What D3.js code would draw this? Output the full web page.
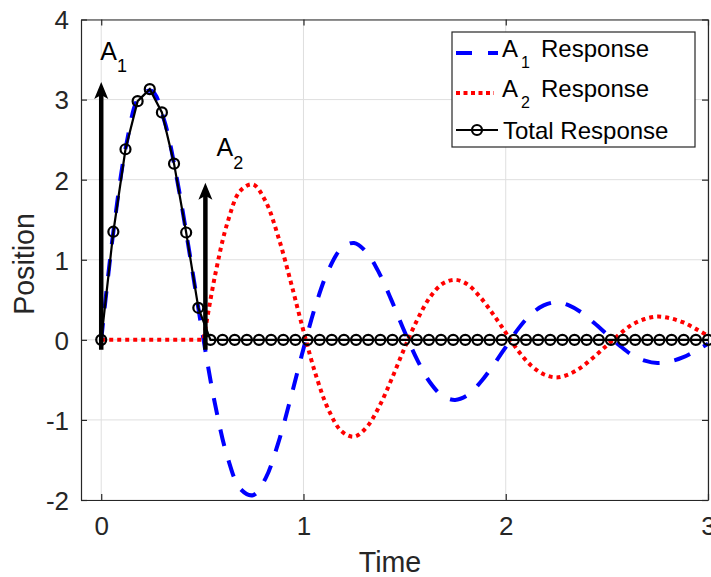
<!DOCTYPE html>
<html>
<head>
<meta charset="utf-8">
<script src="https://cdn.jsdelivr.net/npm/d3@7"></script>
<style>
  body { margin: 0; background: #fff; }
  svg { display: block; font-family: "Liberation Sans", Arial, Helvetica, sans-serif; }
</style>
</head>
<body>
<svg id="chart" width="711" height="577"></svg>
<script>
// A1 response (blue dashed)
const a1Time = [0, 0.0625, 0.125, 0.1875, 0.25, 0.3125, 0.375, 0.4375, 0.5, 0.5625, 0.625, 0.6875,
  0.75, 0.8125, 0.875, 0.9375, 1, 1.0625, 1.125, 1.1875, 1.25, 1.3125, 1.375, 1.4375, 1.5, 1.5625,
  1.625, 1.6875, 1.75, 1.8125, 1.875, 1.9375, 2, 2.0625, 2.125, 2.1875, 2.25, 2.3125, 2.375, 2.4375,
  2.5, 2.5625, 2.625, 2.6875, 2.75, 2.8125, 2.875, 2.9375, 3];
const a1Pos = [0, 1.40, 2.45, 3.03, 3.11, 2.73, 2.00, 1.07, 0.09, -0.80, -1.47, -1.86,
  -1.94, -1.73, -1.29, -0.72, -0.11, 0.45, 0.88, 1.14, 1.21, 1.09, 0.83, 0.48, 0.10, -0.25,
  -0.53, -0.70, -0.75, -0.69, -0.53, -0.32, -0.09, 0.14, 0.32, 0.43, 0.47, 0.43, 0.34, 0.21,
  0.07, -0.07, -0.19, -0.26, -0.29, -0.27, -0.22, -0.14, -0.05];

// A2 response (red dotted), flat until the second impulse
const a2Time = [0, 0.506, 0.5625, 0.625, 0.6875, 0.75, 0.8125, 0.875, 0.9375, 1, 1.0625, 1.125,
  1.1875, 1.25, 1.3125, 1.375, 1.4375, 1.5, 1.5625, 1.625, 1.6875, 1.75, 1.8125, 1.875, 1.9375, 2,
  2.0625, 2.125, 2.1875, 2.25, 2.3125, 2.375, 2.4375, 2.5, 2.5625, 2.625, 2.6875, 2.75, 2.8125,
  2.875, 2.9375, 3];
const a2Pos = [0, 0, 0.80, 1.47, 1.86, 1.94, 1.73, 1.29, 0.72, 0.11, -0.45, -0.88,
  -1.14, -1.21, -1.09, -0.83, -0.48, -0.10, 0.25, 0.53, 0.70, 0.75, 0.69, 0.53, 0.32, 0.09,
  -0.14, -0.32, -0.43, -0.47, -0.43, -0.34, -0.21, -0.07, 0.07, 0.19, 0.26, 0.29, 0.27, 0.22,
  0.14, 0.05];

// total response (black with circles)
const totalTime = [0, 0.06, 0.12, 0.18, 0.24, 0.3, 0.36, 0.42, 0.48, 0.54, 0.6, 0.66, 0.72, 0.78,
  0.84, 0.9, 0.96, 1.02, 1.08, 1.14, 1.2, 1.26, 1.32, 1.38, 1.44, 1.5, 1.56, 1.62, 1.68, 1.74,
  1.8, 1.86, 1.92, 1.98, 2.04, 2.1, 2.16, 2.22, 2.28, 2.34, 2.4, 2.46, 2.52, 2.58, 2.64, 2.7,
  2.76, 2.82, 2.88, 2.94, 3];
const totalPos = [0, 1.35, 2.38, 2.98, 3.13, 2.84, 2.20, 1.34, 0.40, 0, 0, 0, 0, 0,
  0, 0, 0, 0, 0, 0, 0, 0, 0, 0, 0, 0, 0, 0, 0, 0,
  0, 0, 0, 0, 0, 0, 0, 0, 0, 0, 0, 0, 0, 0, 0, 0,
  0, 0, 0, 0, 0];

// impulse arrows
const impulseTime = [0, 0.515];
const impulseSize = [3.22, 1.96];
const impulseSub = ["1", "2"];
const impulseLabelX = [-0.005, 0.57];
const impulseLabelY = [3.5, 2.29];

const xTicks = [0, 1, 2, 3];
const yTicks = [-2, -1, 0, 1, 2, 3, 4];
const legendSubs = ["1", "2"];

const axisColor = "#262626";
const gridColor = "#dfdfdf";

const svg = d3.select("#chart");
svg.append("rect").attr("width", 711).attr("height", 577).attr("fill", "#fff");

const x = d3.scaleLinear().domain([-0.1, 3]).range([81, 708]);
const y = d3.scaleLinear().domain([-2, 4]).range([500, 19.5]);

// grid
const grid = svg.append("g").attr("stroke", gridColor).attr("stroke-width", 1);
grid.selectAll(".gx").data(xTicks).enter().append("line")
  .attr("x1", d => x(d)).attr("x2", d => x(d))
  .attr("y1", y(-2)).attr("y2", y(4));
grid.selectAll(".gy").data(yTicks).enter().append("line")
  .attr("x1", x(-0.1)).attr("x2", x(3))
  .attr("y1", d => y(d)).attr("y2", d => y(d));

// axes, ticks pointing in
function styleAxis(g) {
  g.attr("font-size", 26).attr("font-family", null);
  g.select(".domain").attr("stroke", axisColor).attr("stroke-width", 1.2);
  g.selectAll(".tick line").attr("stroke", axisColor).attr("stroke-width", 1.2);
  g.selectAll(".tick text").attr("fill", axisColor);
}
const fmt = d => String(d);

svg.append("g").attr("transform", `translate(0,${y(-2)})`)
  .call(d3.axisBottom(x).tickValues(xTicks).tickSize(-6).tickSizeOuter(0).tickPadding(16.5).tickFormat(fmt))
  .call(styleAxis);
svg.append("g").attr("transform", `translate(0,${y(4)})`)
  .call(d3.axisTop(x).tickValues(xTicks).tickSize(-6).tickSizeOuter(0).tickFormat(""))
  .call(styleAxis);
svg.append("g").attr("transform", `translate(${x(-0.1)},0)`)
  .call(d3.axisLeft(y).tickValues(yTicks).tickSize(-6).tickSizeOuter(0).tickPadding(12).tickFormat(fmt))
  .call(styleAxis)
  .selectAll(".tick text").attr("dy", "0.36em");
svg.append("g").attr("transform", `translate(${x(3)},0)`)
  .call(d3.axisRight(y).tickValues(yTicks).tickSize(-6).tickSizeOuter(0).tickFormat(""))
  .call(styleAxis);

// axis labels
svg.append("text").attr("x", 390).attr("y", 572).attr("text-anchor", "middle")
  .attr("font-size", 28.6).attr("fill", axisColor).text("Time");
svg.append("text").attr("transform", "translate(33.5,264) rotate(-90)").attr("text-anchor", "middle")
  .attr("font-size", 28.6).attr("fill", axisColor).text("Position");

// response curves
const smooth = d3.line().x(d => x(d[0])).y(d => y(d[1])).curve(d3.curveCatmullRom.alpha(0.5));
const straight = d3.line().x(d => x(d[0])).y(d => y(d[1]));

const a1Data = a1Time.map((t, i) => [t, a1Pos[i]]);
const a2Data = a2Time.map((t, i) => [t, a2Pos[i]]);
const totalData = totalTime.map((t, i) => [t, totalPos[i]]);

svg.append("path").attr("d", smooth(a1Data))
  .attr("fill", "none").attr("stroke", "#0000ff").attr("stroke-width", 4)
  .attr("stroke-dasharray", "17,15");

// flat part straight, then smooth from the impulse on
const a2Path = straight(a2Data.slice(0, 2)) + smooth(a2Data.slice(1)).replace(/^M/, "L");
svg.append("path").attr("d", a2Path)
  .attr("fill", "none").attr("stroke", "#ff0000").attr("stroke-width", 4)
  .attr("stroke-dasharray", "4,4");

svg.append("path").attr("d", straight(totalData))
  .attr("fill", "none").attr("stroke", "#000").attr("stroke-width", 2.2);
svg.append("g").selectAll("circle").data(totalData).enter().append("circle")
  .attr("cx", d => x(d[0])).attr("cy", d => y(d[1])).attr("r", 5)
  .attr("fill", "none").attr("stroke", "#000").attr("stroke-width", 2.2);

// impulse arrows
const arrows = svg.append("g");
impulseTime.forEach((t, i) => {
  const ax = x(t), tip = y(impulseSize[i]);
  arrows.append("line")
    .attr("x1", ax).attr("x2", ax)
    .attr("y1", y(-0.125)).attr("y2", tip + 12)
    .attr("stroke", "#000").attr("stroke-width", 4.5);
  arrows.append("path")
    .attr("d", `M${ax},${tip} L${ax - 7},${tip + 17} L${ax},${tip + 13} L${ax + 7},${tip + 17} Z`)
    .attr("fill", "#000");
  const lbl = arrows.append("text")
    .attr("x", x(impulseLabelX[i])).attr("y", y(impulseLabelY[i]))
    .attr("font-size", 25).attr("fill", "#000");
  lbl.append("tspan").text("A");
  lbl.append("tspan").attr("font-size", 18).attr("dy", 12.5).text(impulseSub[i]);
});

// legend
const legend = svg.append("g");
legend.append("rect").attr("x", 452).attr("y", 32).attr("width", 243).attr("height", 115)
  .attr("fill", "#fff").attr("stroke", axisColor).attr("stroke-width", 1.2);

const rowY = [53, 93, 130];
legend.append("line").attr("x1", 456).attr("x2", 498).attr("y1", rowY[0]).attr("y2", rowY[0])
  .attr("stroke", "#0000ff").attr("stroke-width", 4).attr("stroke-dasharray", "16,16");
legend.append("line").attr("x1", 456).attr("x2", 494).attr("y1", rowY[1]).attr("y2", rowY[1])
  .attr("stroke", "#ff0000").attr("stroke-width", 4).attr("stroke-dasharray", "4,3.5");
legend.append("line").attr("x1", 456).attr("x2", 498).attr("y1", rowY[2]).attr("y2", rowY[2])
  .attr("stroke", "#000").attr("stroke-width", 2.2);
legend.append("circle").attr("cx", 477).attr("cy", rowY[2]).attr("r", 5)
  .attr("fill", "none").attr("stroke", "#000").attr("stroke-width", 2.2);

legendSubs.forEach((s, i) => {
  const t = legend.append("text").attr("y", rowY[i] + 4).attr("font-size", 24).attr("fill", "#000");
  t.append("tspan").attr("x", 502).text("A");
  t.append("tspan").attr("x", 521).attr("dy", 11).attr("font-size", 16).text(s);
  t.append("tspan").attr("x", 541).attr("dy", -11).text("Response");
});
legend.append("text").attr("x", 503).attr("y", rowY[2] + 8.5).attr("font-size", 24)
  .attr("fill", "#000").text("Total Response");
</script>
</body>
</html>
